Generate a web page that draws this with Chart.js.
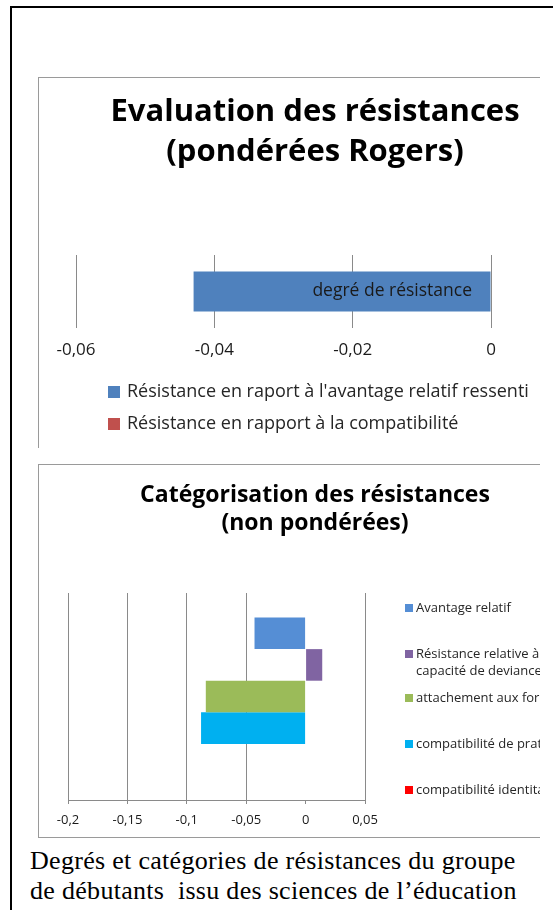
<!DOCTYPE html>
<html lang="fr">
<head>
<meta charset="utf-8">
<title>Résistances</title>
<script src="https://cdn.jsdelivr.net/npm/chart.js@4.4.1/dist/chart.umd.min.js"></script>
<style>
    html, body { margin: 0; padding: 0; background: #fff; }
    body { width: 553px; height: 910px; position: relative; overflow: hidden; }
    .page-frame {
        position: absolute; left: 10px; top: 6px; width: 700px; height: 1000px;
        border: 2px solid #000;
    }
    .panel { position: absolute; overflow: hidden; background: #fff; }
    #panelRogers {
        left: 38px; top: 77px; width: 501px; height: 370px;
        border-top: 1px solid #9a9a9a; border-left: 1px solid #9a9a9a;
    }
    #panelCateg {
        left: 38px; top: 464px; width: 501px; height: 372px;
        border-top: 1px solid #9a9a9a; border-left: 1px solid #9a9a9a; border-bottom: 1px solid #9a9a9a;
    }
    .panel canvas { position: absolute; left: 0; top: 0; }
    .legende {
        position: absolute; left: 30px; top: 846px;
        font-family: "Liberation Serif", "Times New Roman", serif;
        font-size: 26px; line-height: 30px; letter-spacing: 0.3px; color: #000; white-space: pre;
    }
</style>
</head>
<body>
<div class="page-frame"></div>

<div class="panel" id="panelRogers">
    <div style="position:absolute;left:0;top:0;width:554px;height:370px;">
        <canvas id="chartRogers"></canvas>
    </div>
</div>

<div class="panel" id="panelCateg">
    <div style="position:absolute;left:0;top:0;width:552px;height:372px;">
        <canvas id="chartCateg"></canvas>
    </div>
</div>

<div class="legende">Degrés et catégories de résistances du groupe
de débutants  issu des sciences de l’éducation</div>

<script>
// --- Données : évaluation pondérée (Rogers)
const rogersTitre = ['Evaluation des résistances', '(pondérées Rogers)'];
const rogersCategories = ['degré de résistance'];
const rogersSeries = [
    'Résistance en raport à l\'avantage relatif ressenti',
    'Résistance en rapport à la compatibilité'
];
const rogersValeurs = [
    [-0.043],
    [0]
];
const rogersCouleurs = ['#4F81BD', '#C0504D'];
const rogersTicks = { min: -0.06, max: 0, pas: 0.02 };

// --- Données : catégorisation non pondérée
const categTitre = ['Catégorisation des résistances', '(non pondérées)'];
const categCategories = [''];
const categSeries = [
    ['Avantage relatif'],
    ['Résistance relative à la', 'capacité de deviance'],
    ['attachement aux formes traditionnelles'],
    ['compatibilité de pratiques'],
    ['compatibilité identitaire']
];
const categValeurs = [
    [-0.043],
    [0.014],
    [-0.084],
    [-0.088],
    [0]
];
const categCouleurs = ['#558ED5', '#8064A2', '#9BBB59', '#00B0F0', '#FF0000'];
const categTicks = { min: -0.2, max: 0.05, pas: 0.05 };

const POLICE = '"Open Sans", Lato, sans-serif';

function formatVirgule(v) {
    return String(Number(v.toFixed(2))).replace('.', ',');
}

// axe vide qui sert juste à réserver une marge (le titre reste centré sur tout le canvas)
function axeMarge(position, largeur) {
    return {
        type: 'category',
        position: position,
        display: true,
        grid: { display: false },
        border: { display: false },
        ticks: { display: false },
        afterFit: s => { s.width = largeur; }
    };
}

// Légende dessinée à la main (positions façon Excel)
function legendePlugin(cfg) {
    return {
        id: 'legendeMain',
        afterDraw(chart) {
            const ctx = chart.ctx;
            ctx.save();
            ctx.font = cfg.taille + 'px ' + POLICE;
            ctx.textBaseline = 'middle';
            ctx.textAlign = 'left';
            chart.data.datasets.forEach((ds, i) => {
                const lignes = Array.isArray(ds.label) ? ds.label : [ds.label];
                const y0 = cfg.lignesY[i];
                ctx.fillStyle = ds.backgroundColor;
                ctx.fillRect(cfg.boiteX, y0 - cfg.boite / 2, cfg.boite, cfg.boite);
                ctx.fillStyle = '#262626';
                lignes.forEach((t, k) => {
                    ctx.fillText(t, cfg.texteX, y0 + k * cfg.interligne);
                });
            });
            ctx.restore();
        }
    };
}

// Libellé de catégorie posé contre l'axe à 0 (il passe par-dessus la barre)
const libelleCategoriePlugin = {
    id: 'libelleCategorie',
    afterDatasetsDraw(chart) {
        const ctx = chart.ctx;
        const xs = chart.scales.x, ys = chart.scales.y;
        const x0 = xs.getPixelForValue(0);
        ctx.save();
        ctx.font = '17.5px ' + POLICE;
        ctx.fillStyle = '#1a1a1a';
        ctx.textAlign = 'right';
        ctx.textBaseline = 'middle';
        chart.data.labels.forEach((lab, i) => {
            ctx.fillText(lab, x0 - 19, ys.getPixelForTick(i));
        });
        ctx.restore();
    }
};

// Graphique 1
new Chart(document.getElementById('chartRogers'), {
    type: 'bar',
    data: {
        labels: rogersCategories,
        datasets: rogersSeries.map((nom, i) => ({
            label: nom,
            data: rogersValeurs[i],
            backgroundColor: rogersCouleurs[i],
            borderWidth: 0,
            categoryPercentage: 0.55,
            barPercentage: 1
        }))
    },
    options: {
        indexAxis: 'y',
        responsive: true,
        maintainAspectRatio: false,
        animation: false,
        layout: { padding: { left: 0, right: 2, top: 0, bottom: 90 } },
        plugins: {
            legend: { display: false },
            tooltip: { enabled: false },
            title: {
                display: true,
                text: rogersTitre,
                color: '#000',
                font: { family: POLICE, size: 31, weight: 'bold', lineHeight: 40 / 31 },
                padding: { top: 14, bottom: 83 }
            }
        },
        scales: {
            x: {
                min: rogersTicks.min,
                max: rogersTicks.max,
                border: { display: false },
                grid: { color: '#8a8a8a', drawTicks: false },
                ticks: {
                    stepSize: rogersTicks.pas,
                    padding: 12,
                    color: '#1a1a1a',
                    font: { family: POLICE, size: 17 },
                    callback: v => formatVirgule(v)
                },
                afterFit: s => { s.height = 30; }
            },
            y: Object.assign(axeMarge('left', 37), { stacked: true }),
            yDroite: axeMarge('right', 100)
        }
    },
    plugins: [
        libelleCategoriePlugin,
        legendePlugin({ boiteX: 69, boite: 12, texteX: 88, taille: 18, interligne: 18, lignesY: [314, 346] })
    ]
});

// Graphique 2
new Chart(document.getElementById('chartCateg'), {
    type: 'bar',
    data: {
        labels: categCategories,
        datasets: categSeries.map((nom, i) => ({
            label: nom,
            data: categValeurs[i],
            backgroundColor: categCouleurs[i],
            borderWidth: 0,
            categoryPercentage: 0.763,
            barPercentage: 1
        }))
    },
    options: {
        indexAxis: 'y',
        responsive: true,
        maintainAspectRatio: false,
        animation: false,
        layout: { padding: { left: 0, right: 0, top: 0, bottom: 7 } },
        plugins: {
            legend: { display: false },
            tooltip: { enabled: false },
            title: {
                display: true,
                text: categTitre,
                color: '#000',
                font: { family: POLICE, size: 23, weight: 'bold', lineHeight: 28 / 23 },
                padding: { top: 16, bottom: 56 }
            }
        },
        scales: {
            x: {
                min: categTicks.min,
                max: categTicks.max,
                border: { display: true, color: '#8a8a8a' },
                grid: {
                    color: ctx => (ctx.tick && ctx.tick.value === 0 ? 'rgba(0,0,0,0)' : '#8a8a8a'),
                    tickLength: 4,
                    tickColor: '#8a8a8a'
                },
                ticks: {
                    stepSize: categTicks.pas,
                    padding: 8,
                    color: '#1a1a1a',
                    font: { family: POLICE, size: 13 },
                    callback: v => formatVirgule(v)
                },
                afterFit: s => { s.height = 30; }
            },
            y: axeMarge('left', 29),
            yDroite: axeMarge('right', 226)
        }
    },
    plugins: [
        legendePlugin({ boiteX: 366, boite: 8, texteX: 377, taille: 13, interligne: 17, lignesY: [143, 189, 233, 279, 325] })
    ]
});
</script>
</body>
</html>
